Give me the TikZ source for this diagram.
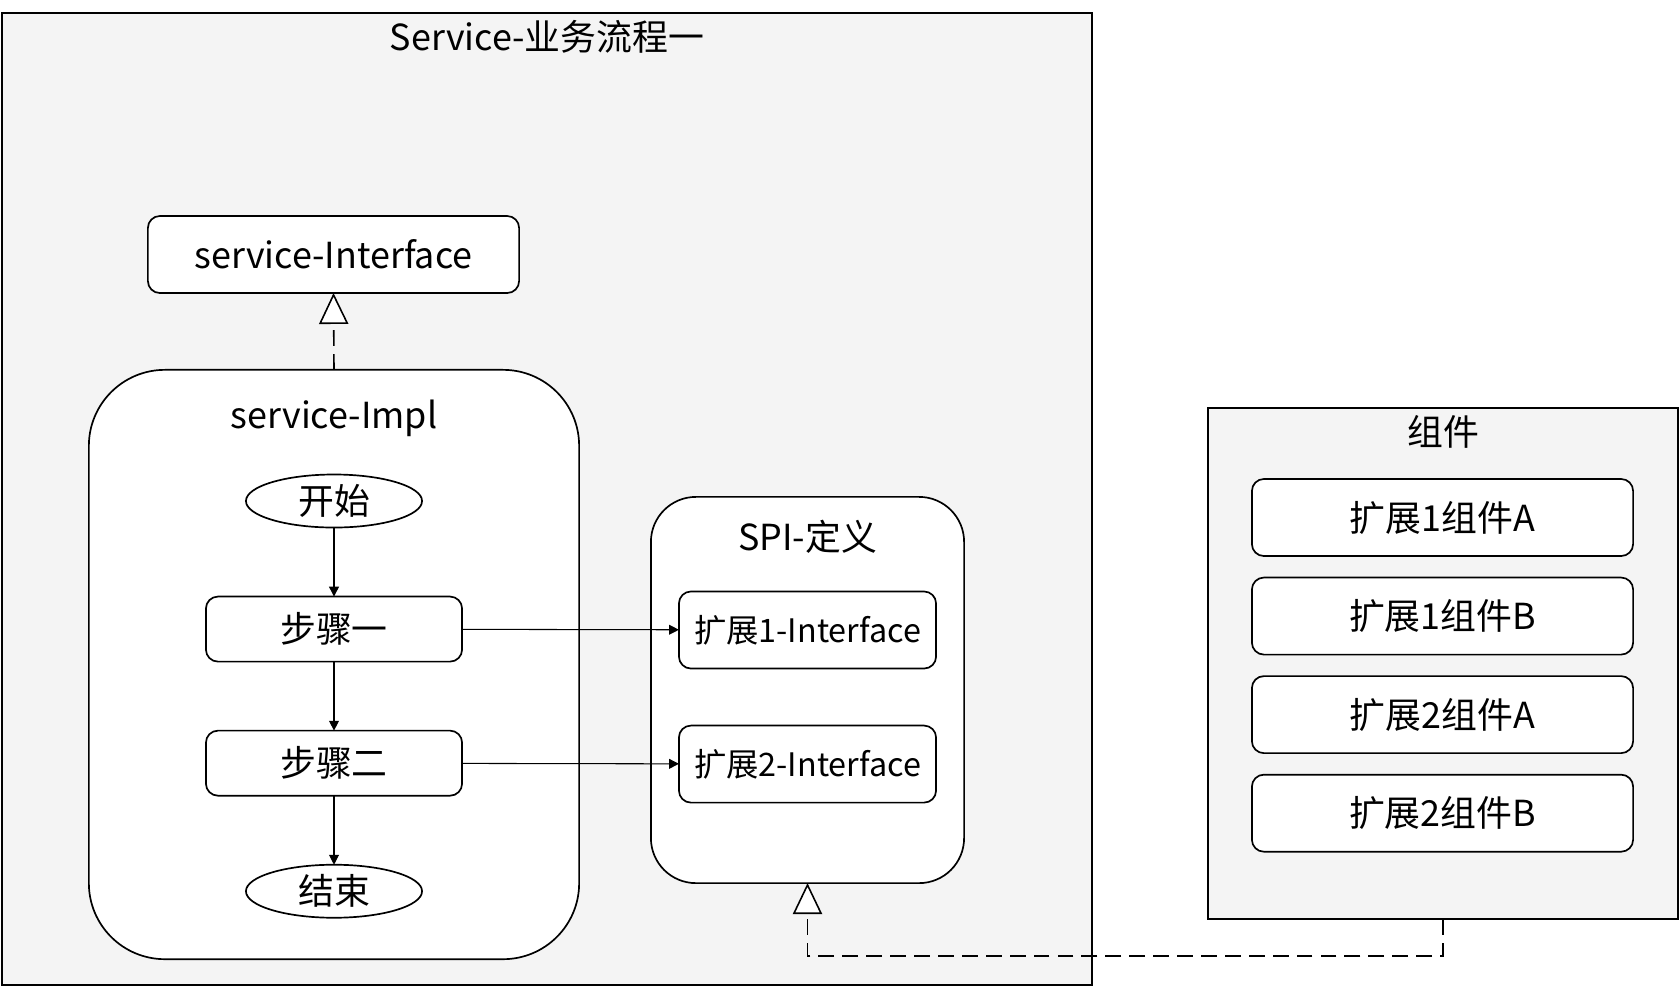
\documentclass[tikz,border=0pt]{standalone}
\usepackage{fontspec}
\setmainfont{Noto Sans CJK SC}
\usepackage{xcolor}
\usepackage{tikz}
\usetikzlibrary{shapes.geometric,positioning,arrows.meta}
\definecolor{grpbg}{RGB}{244,244,244}
\newcommand{\fbig}{\fontsize{10.2pt}{12pt}\selectfont}
\newcommand{\fsmall}{\fontsize{9.2pt}{11pt}\selectfont}
\tikzset{
	every node/.style = { align = center, draw, line width=0.48pt, font=\fbig, inner sep=0pt, outer sep=0pt },
	grp/.style = { rectangle, fill=grpbg },
	pane/.style = { rectangle, fill=white },
	box/.style = { rectangle, rounded corners=0.12cm, fill=white, minimum height=0.77cm },
	term/.style = { ellipse, fill=white, minimum width=1.76cm, minimum height=0.53cm },
	clr/.style = { draw=none },
	flow/.style = { -{Triangle[length=2.8pt,width=2.8pt]}, line width=0.3pt },
	impl/.style = { dash pattern=on 4.5pt off 2.3pt, line width=0.45pt,
		-{Triangle[open,length=8.8pt,width=8.3pt,fill=white]} },
}

\begin{document}
\begin{tikzpicture}[x=0.01cm,y=-0.01cm]
\useasboundingbox (0,0) rectangle (1679,987);

\node (svc)  [grp,minimum width=10.9cm,minimum height=9.72cm] at (547,499) {};
\node (hsvc) [clr] at (547,37) {Service-业务流程一};
\node (comp) [grp,minimum width=4.7cm,minimum height=5.11cm] at (1443,663.5) {};
\node (hcomp) [clr] at (1443,432) {组件};

\node (sif)  [box,minimum width=3.71cm] at (333.5,254.5) {service-Interface};

\node (impl) [pane,rounded corners=0.76cm,minimum width=4.9cm,minimum height=5.89cm] at (334,664.5) {};
\node (himpl) [clr] at (334,418) {service-Impl};

\node (start) [term] at (334,501) {开始};
\begin{scope}[node distance=0.69cm]
\node (st1)  [box,minimum width=2.56cm,minimum height=0.65cm,below=of start] {步骤一};
\node (st2)  [box,minimum width=2.56cm,minimum height=0.65cm,below=of st1]   {步骤二};
\node (end)  [term,below=of st2] {结束};
\end{scope}

\node (spi)  [pane,rounded corners=0.45cm,minimum width=3.13cm,minimum height=3.86cm] at (807.5,690) {};
\node (hspi) [clr] at (807.5,537) {SPI-定义};
\node (ext1) [box,minimum width=2.57cm,font=\fsmall] at (807.5,630) {扩展1-Interface};
\node (ext2) [box,minimum width=2.57cm,font=\fsmall,below=0.57cm of ext1] {扩展2-Interface};

\node (c1a)  [box,minimum width=3.81cm] at (1442.5,517.5) {扩展1组件A};
\begin{scope}[node distance=0.215cm]
\node (c1b)  [box,minimum width=3.81cm,below=of c1a] {扩展1组件B};
\node (c2a)  [box,minimum width=3.81cm,below=of c1b] {扩展2组件A};
\node (c2b)  [box,minimum width=3.81cm,below=of c2a] {扩展2组件B};
\end{scope}

\draw[flow] (start) -- (st1);
\draw[flow] (st1)   -- (st2);
\draw[flow] (st2)   -- (end);
\draw[flow] (st1)   -- (ext1);
\draw[flow] (st2)   -- (ext2);

\draw[impl] (impl.north) -- (sif.south);
\coordinate (bend) at (comp.south|-0,956);
\draw[impl] (comp.south) -- (bend) -| (spi.south);

\end{tikzpicture}
\end{document}
